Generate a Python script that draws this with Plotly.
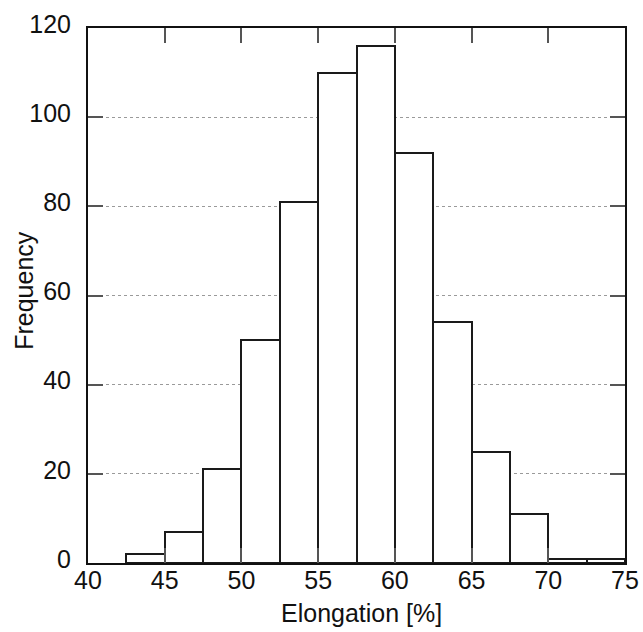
import plotly.graph_objects as go

# Histogram of elongation values: left bin edges and counts per bin
bin_width = 2.5
bin_left = [42.5, 45.0, 47.5, 50.0, 52.5, 55.0, 57.5, 60.0, 62.5, 65.0, 67.5, 70.0, 72.5]
counts = [2, 7, 21, 50, 81, 110, 116, 92, 54, 25, 11, 1, 1]

x_ticks = [40, 45, 50, 55, 60, 65, 70, 75]
y_ticks = [0, 20, 40, 60, 80, 100, 120]

centers = [e + bin_width / 2 for e in bin_left]

FONT = "Liberation Sans, Arial, Helvetica, sans-serif"
FS = 25

fig = go.Figure()
fig.add_trace(go.Bar(
    x=centers,
    y=counts,
    width=[bin_width] * len(centers),
    marker=dict(color="white", line=dict(color="#1a1a1a", width=2)),
    hoverinfo="x+y",
))

axis_common = dict(
    showline=True,
    linecolor="#111111",
    linewidth=2,
    mirror="ticks",
    ticks="inside",
    ticklen=15,
    tickwidth=2,
    tickcolor="#555555",
    zeroline=False,
    tickfont=dict(family=FONT, size=FS, color="#111111"),
)

fig.update_xaxes(
    range=[40, 75],
    tickvals=x_ticks,
    ticktext=[str(v) for v in x_ticks],
    showgrid=False,
    ticklabelstandoff=-6,
    **axis_common,
)
fig.update_yaxes(
    range=[0, 120],
    tickvals=y_ticks,
    ticktext=[str(v) for v in y_ticks],
    showgrid=True,
    gridcolor="#9a9a9a",
    gridwidth=1.2,
    griddash="dot",
    ticklabelstandoff=10,
    ticklabelshift=-4,
    **axis_common,
)

# Axis titles
fig.add_annotation(
    text="Elongation [%]", xref="paper", yref="paper",
    x=0.51, y=-0.094, xanchor="center", yanchor="middle",
    showarrow=False, font=dict(family=FONT, size=FS, color="#111111"),
)
fig.add_annotation(
    text="Frequency", xref="paper", yref="paper",
    x=-0.118, y=0.51, xanchor="center", yanchor="middle", textangle=-90,
    showarrow=False, font=dict(family=FONT, size=FS, color="#111111"),
)

fig.update_layout(
    width=643,
    height=632,
    margin=dict(l=88, r=18, t=28, b=69, autoexpand=False),
    plot_bgcolor="white",
    paper_bgcolor="white",
    showlegend=False,
    bargap=0,
)

fig.write_html("out.html")
